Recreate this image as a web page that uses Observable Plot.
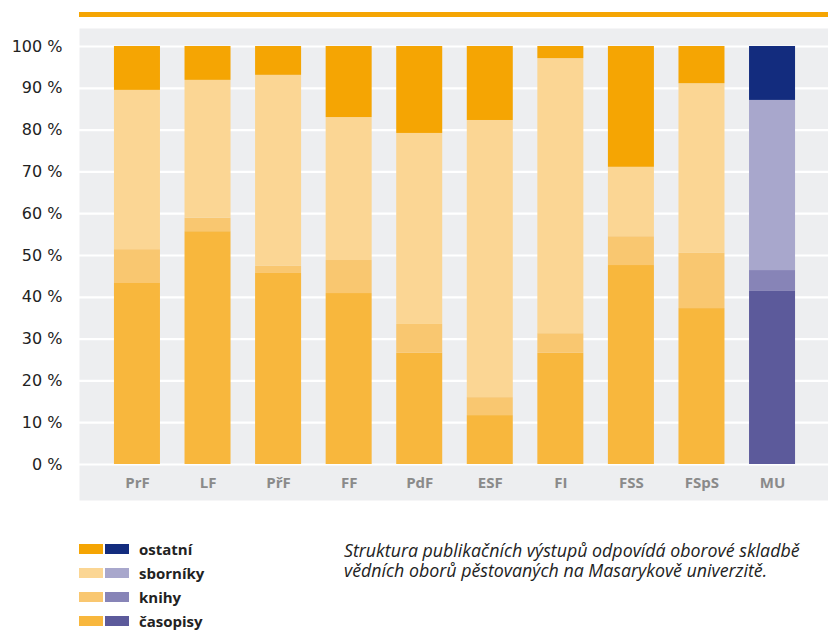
<!DOCTYPE html>
<html>
<head>
<meta charset="utf-8">
<script src="https://cdn.jsdelivr.net/npm/d3@7"></script>
<script src="https://cdn.jsdelivr.net/npm/@observablehq/plot@0.6"></script>
<style>
  body { margin: 0; background: #fff; font-family: "Open Sans", sans-serif; }
  #wrap { position: relative; width: 828px; height: 630px; overflow: hidden; }
  #topline { position: absolute; left: 79px; top: 12px; width: 749px; height: 5px; background: #F5A503; }
  #chart { position: absolute; left: 0; top: 0; }
  #legend { position: absolute; left: 79px; top: 537px; }
  .row { display: flex; align-items: center; height: 24px; }
  .sw { width: 24px; height: 10px; margin-right: 2px; }
  .lab { margin-left: 8px; font-weight: bold; font-size: 15px; color: #222; }
  #caption { position: absolute; left: 344px; top: 540px; font-style: italic; font-size: 17.8px; line-height: 20px; color: #222; white-space: nowrap; }
</style>
</head>
<body>
<div id="wrap">
  <div id="topline"></div>
  <div id="chart"></div>
  <div id="legend"></div>
  <div id="caption"></div>
</div>
<script>
const faculties = ["PrF", "LF", "PřF", "FF", "PdF", "ESF", "FI", "FSS", "FSpS", "MU"];
const casopisy = [43.3, 55.7, 45.7, 40.9, 26.6, 11.7, 26.6, 47.6, 37.3, 41.4];
const knihy    = [8.1, 3.2, 1.7, 7.9, 6.9, 4.3, 4.7, 6.9, 13.2, 5.0];
const sborniky = [38.1, 33.0, 45.7, 34.2, 45.7, 66.3, 65.8, 16.6, 40.6, 40.7];
const ostatni  = [10.5, 8.1, 6.9, 17.0, 20.8, 17.7, 2.9, 28.9, 8.9, 12.9];
const seriesNames = ["časopisy", "knihy", "sborníky", "ostatní"];
const yTicks = [0, 10, 20, 30, 40, 50, 60, 70, 80, 90, 100];
const captionLines = [
  "Struktura publikačních výstupů odpovídá oborové skladbě",
  "vědních oborů pěstovaných na Masarykově univerzitě."
];

const orangeColors = {"časopisy": "#F8B73D", "knihy": "#F9C770", "sborníky": "#FBD694", "ostatní": "#F5A503"};
const blueColors   = {"časopisy": "#5C5A9B", "knihy": "#8784B7", "sborníky": "#A8A7CC", "ostatní": "#132C7E"};

const seriesValues = [casopisy, knihy, sborniky, ostatni];
const data = [];
faculties.forEach((f, i) => {
  seriesNames.forEach((s, j) => {
    data.push({faculty: f, series: s, value: seriesValues[j][i],
      color: f === "MU" ? blueColors[s] : orangeColors[s]});
  });
});

const chart = Plot.plot({
  width: 828,
  height: 505,
  marginLeft: 79,
  marginRight: 0,
  marginTop: 28,
  marginBottom: 5,
  insetTop: 18,
  insetBottom: 36,
  insetLeft: 10.4,
  insetRight: 8.4,
  style: {fontFamily: "'Open Sans', sans-serif", background: "transparent"},
  x: {domain: faculties, padding: 0.348, round: false, axis: null},
  y: {domain: [0, 100], axis: null},
  marks: [
    Plot.frame({fill: "#EDEEF0", stroke: null}),
    Plot.ruleY(yTicks, {stroke: "#fff", strokeWidth: 2.2}),
    Plot.barY(data, {x: "faculty", y: "value", fill: "color", order: null}),
    Plot.axisY(yTicks, {anchor: "left", label: null, tickSize: 0, tickPadding: 17, tickFormat: d => d + " %", fontSize: 16, fontFamily: "'DejaVu Sans', sans-serif", fill: "#222"}),
    Plot.text(faculties, {x: d => d, y: 0, dy: 19, text: d => d, fill: "#8a8a8a", fontWeight: "bold", fontSize: 15})
  ]
});
document.getElementById("chart").appendChild(chart);

const legend = document.getElementById("legend");
[...seriesNames].reverse().forEach(s => {
  const row = document.createElement("div");
  row.className = "row";
  row.innerHTML = `<div class="sw" style="background:${orangeColors[s]}"></div><div class="sw" style="background:${blueColors[s]}"></div><span class="lab">${s}</span>`;
  legend.appendChild(row);
});
document.getElementById("caption").innerHTML = captionLines.join("<br>");
</script>
</body>
</html>
